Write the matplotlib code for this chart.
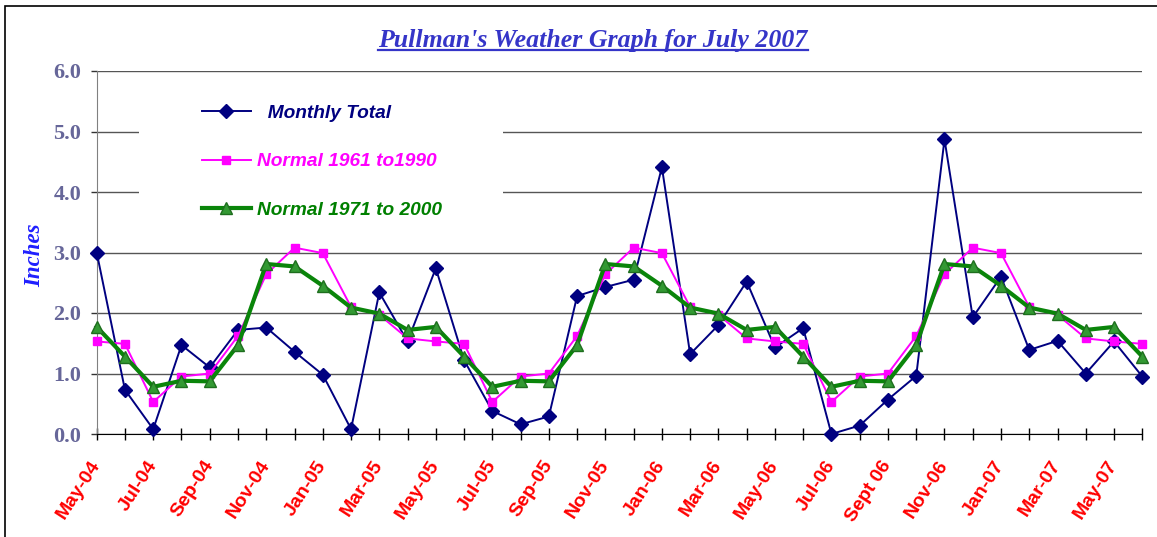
import matplotlib
matplotlib.use("Agg")
import matplotlib.pyplot as plt
from matplotlib.patches import Rectangle
from matplotlib.lines import Line2D
from matplotlib.font_manager import FontProperties

# monthly precipitation, May-04 .. Jun-07 (inches)
monthly_total = [3.00, 0.73, 0.08, 1.47, 1.10, 1.72, 1.76, 1.36, 0.98, 0.08, 2.34, 1.53,
                 2.74, 1.22, 0.38, 0.16, 0.29, 2.28, 2.43, 2.55, 4.41, 1.32, 1.80, 2.52,
                 1.43, 1.75, 0.00, 0.14, 0.57, 0.96, 4.87, 1.93, 2.60, 1.39, 1.54, 1.00,
                 1.53, 0.95]
normal_6190 = [1.53, 1.49, 0.53, 0.95, 1.00, 1.62, 2.64, 3.08, 2.99, 2.10, 1.97, 1.58,
               1.53, 1.49, 0.53, 0.95, 1.00, 1.62, 2.64, 3.08, 2.99, 2.10, 1.97, 1.58,
               1.53, 1.49, 0.53, 0.95, 1.00, 1.62, 2.64, 3.08, 2.99, 2.10, 1.97, 1.58,
               1.53, 1.49]
normal_7100 = [1.77, 1.28, 0.78, 0.88, 0.87, 1.47, 2.81, 2.77, 2.45, 2.09, 1.99, 1.72,
               1.77, 1.28, 0.78, 0.88, 0.87, 1.47, 2.81, 2.77, 2.45, 2.09, 1.99, 1.72,
               1.77, 1.28, 0.78, 0.88, 0.87, 1.47, 2.81, 2.77, 2.45, 2.09, 1.99, 1.72,
               1.77, 1.28]
month_labels = ["May-04", "Jul-04", "Sep-04", "Nov-04", "Jan-05", "Mar-05", "May-05",
                "Jul-05", "Sep-05", "Nov-05", "Jan-06", "Mar-06", "May-06", "Jul-06",
                "Sept 06", "Nov-06", "Jan-07", "Mar-07", "May-07"]

W, H = 1157, 537
fig = plt.figure(figsize=(W / 100, H / 100), dpi=100)
ax = fig.add_axes([96.7 / W, (H - 434) / H, (1142.3 - 96.7) / W, 363 / H])

x = list(range(len(monthly_total)))

ax.plot(x, monthly_total, color="#000080", lw=1.4, marker="D", ms=7,
        mfc="#000080", mec="#000080", label="  Monthly Total", clip_on=False, zorder=3)
ax.plot(x, normal_6190, color="#FF00FF", lw=1.4, marker="s", ms=6,
        mfc="#FF00FF", mec="#FF00FF", label="Normal 1961 to1990", clip_on=False, zorder=4)
ax.plot(x, normal_7100, color="#0A850A", lw=3.0, marker="^", ms=9,
        mfc="#339933", mec="#1E6E1E", mew=1, label="Normal 1971 to 2000",
        clip_on=False, zorder=5)

ax.set_xlim(0, len(x) - 1)
ax.set_ylim(0, 6)

# x axis: a tick every month, a label every other month
xlabels = []
for i in x:
    xlabels.append(month_labels[i // 2] if i % 2 == 0 else "")
ax.set_xticks(x)
ax.set_xticklabels(xlabels, rotation=57, ha="right", va="center", rotation_mode="anchor",
                   color="red", fontfamily="Liberation Sans", fontweight="bold", fontsize=14)
ax.tick_params(axis="x", direction="inout", length=8.6, width=1, color="black", pad=16)

yt = [0, 1, 2, 3, 4, 5, 6]
ax.set_yticks(yt)
ax.set_yticklabels([f"{v:.1f}" for v in yt], fontfamily="Liberation Serif",
                   fontweight="bold", fontsize=16, color="#666699")
ax.tick_params(axis="y", direction="out", length=4.3, width=1, color="#333333", pad=7)

ax.grid(axis="y", color="#555555", lw=1)
ax.set_axisbelow(True)
for s in ["top", "right"]:
    ax.spines[s].set_visible(False)
ax.spines["left"].set_color("#808080")
ax.spines["bottom"].set_color("black")

# white area behind the legend
ax.add_patch(Rectangle((0.0405, 0.55), 0.348, 0.41, transform=ax.transAxes,
                       facecolor="white", edgecolor="none", zorder=1))

leg = ax.legend(loc="upper left", bbox_to_anchor=(0.1007, 0.908), frameon=False,
                borderpad=0, borderaxespad=0, handlelength=2.55, handletextpad=0.3,
                labelspacing=1.62,
                prop=FontProperties(family="Liberation Sans", weight="bold",
                                    style="italic", size=13.8))
for t, c in zip(leg.get_texts(), ["#000080", "#FF00FF", "#008000"]):
    t.set_color(c)

fig.text(35 / W, (H - 255) / H, "Inches", rotation=90, ha="center", va="center",
         fontfamily="Liberation Serif", fontweight="bold", fontstyle="italic",
         fontsize=16.5, color="#1F1FFF")

title = fig.text(593 / W, (H - 47) / H, "Pullman's Weather Graph for July 2007",
                 ha="center", va="baseline", fontfamily="Liberation Serif",
                 fontweight="bold", fontstyle="italic", fontsize=18.6, color="#3535C8")

# chart border
fig.add_artist(Rectangle((5 / W, -0.05), 1.2, (H - 6) / H + 0.05, transform=fig.transFigure,
                         fill=False, edgecolor="black", lw=1.2))

# underline the title
fig.canvas.draw()
bb = title.get_window_extent()
uy = (H - 49.5) / H
fig.add_artist(Line2D([bb.x0 / W, bb.x1 / W], [uy, uy], transform=fig.transFigure,
                      color="#3535C8", lw=1.6))

fig.savefig("out.png", dpi=100)
